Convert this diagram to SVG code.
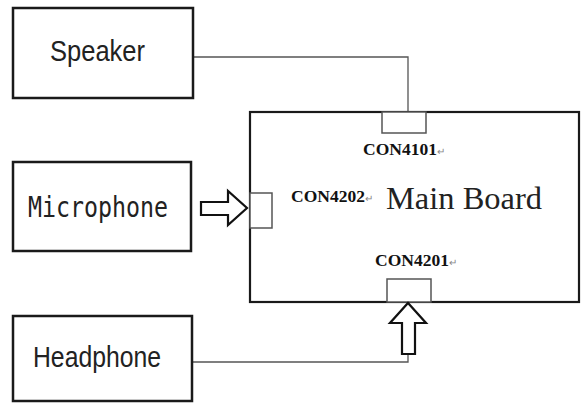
<svg xmlns="http://www.w3.org/2000/svg" width="581" height="404" viewBox="0 0 581 404">
<style>
.box{fill:#fff;stroke:#1a1a1a;stroke-width:2.5}
.board{fill:#fff;stroke:#1a1a1a;stroke-width:2.2}
.con{fill:#fff;stroke:#555;stroke-width:1.5}
.wire{fill:none;stroke:#555;stroke-width:1.3}
.arrow{fill:#fff;stroke:#111;stroke-width:2.2;stroke-linejoin:miter}
.lbl{font-family:"Liberation Sans",Arial,sans-serif;font-size:29px;fill:#222}
.mono{font-family:"DejaVu Sans Mono","Liberation Mono",monospace;font-size:29px;fill:#222}
.conl{font-family:"Liberation Serif","Times New Roman",serif;font-weight:bold;font-size:17.5px;fill:#111}
.ret{font-weight:normal;font-size:10px;fill:#888}
.mb{font-family:"Liberation Serif","Times New Roman",serif;font-size:32px;fill:#222}
</style>
<rect width="581" height="404" fill="#fff"/>
<g id="connectors">
<polyline class="wire" points="193,57 408,57 408,112"/>
<polyline class="wire" points="192,362 408,362 408,354"/>
</g>
<g id="main-board">
<rect class="board" x="250" y="112" width="329" height="190"/>
<rect class="con" x="382" y="112" width="44" height="21"/>
<rect class="con" x="250" y="193" width="22" height="35"/>
<rect class="con" x="387" y="279" width="44" height="23"/>
<text class="mb" x="386" y="209" textLength="156" lengthAdjust="spacingAndGlyphs">Main Board</text>
<text class="conl" x="363" y="155">CON4101<tspan class="ret">↵</tspan></text>
<text class="conl" x="291" y="202">CON4202<tspan class="ret">↵</tspan></text>
<text class="conl" x="375" y="266">CON4201<tspan class="ret">↵</tspan></text>
</g>
<g id="speaker">
<rect class="box" x="13" y="8" width="180" height="90"/>
<text class="lbl" x="50" y="61" textLength="95" lengthAdjust="spacingAndGlyphs">Speaker</text>
</g>
<g id="microphone">
<rect class="box" x="13" y="162" width="178" height="89"/>
<text class="mono" x="28" y="217" textLength="140" lengthAdjust="spacingAndGlyphs">Microphone</text>
</g>
<g id="headphone">
<rect class="box" x="13" y="316" width="179" height="85"/>
<text class="lbl" x="33" y="367" textLength="128" lengthAdjust="spacingAndGlyphs">Headphone</text>
</g>
<g id="mic-arrow">
<polygon class="arrow" points="201,202 228,202 228,191 247,208 228,225 228,215 201,215"/>
</g>
<g id="headphone-arrow">
<polygon class="arrow" points="402,354 402,323 390,323 408,303 426,323 415,323 415,354"/>
</g>
</svg>
